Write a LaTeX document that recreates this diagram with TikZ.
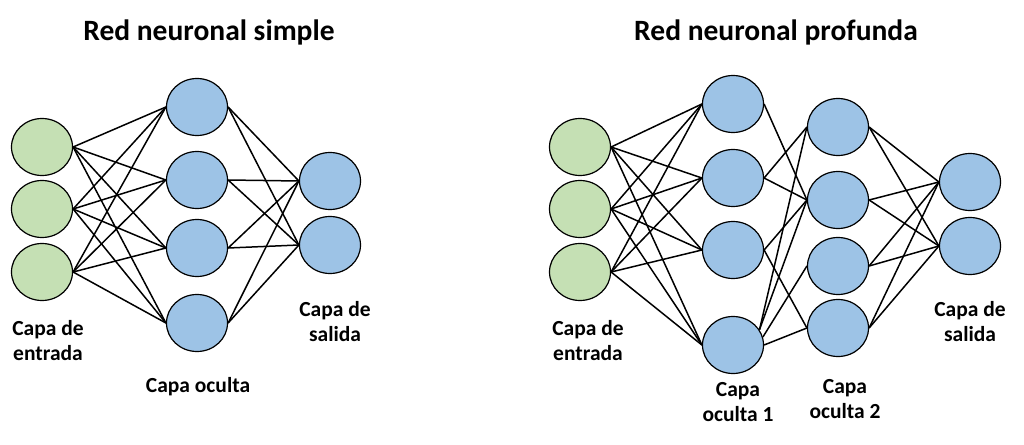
\documentclass[tikz,border=0pt]{standalone}
\usepackage{fontspec}
\setmainfont{Carlito}
\usetikzlibrary{shapes.geometric}
\definecolor{ing}{HTML}{C5E0B4}
\definecolor{hid}{HTML}{9DC3E6}
\begin{document}
\begin{tikzpicture}[x=1pt,y=-1pt,
  neu/.style={ellipse,draw=black,line width=1.2pt,minimum width=61pt,minimum height=57pt,inner sep=0pt},
  inn/.style={neu,fill=ing}, hn/.style={neu,fill=hid},
  ed/.style={line width=1.5pt},
  ttl/.style={font=\bfseries\fontsize{29.5}{34}\selectfont},
  lbl/.style={font=\bfseries\fontsize{21.5}{25}\selectfont,align=center}]
\useasboundingbox (0,0) rectangle (1024,444);
% left
\foreach \i/\y in {1/147,2/209,3/272} \node[inn] (a\i) at (42,\y) {};
\foreach \i/\y in {1/107,2/180,3/248,4/323} \node[hn] (b\i) at (197,\y) {};
\foreach \i/\y in {1/181,2/245} \node[hn] (c\i) at (330,\y) {};
\foreach \i in {1,2,3} \foreach \j in {1,2,3,4} \draw[ed] (a\i.east) -- (b\j.west);
\foreach \i in {1,2,3,4} \foreach \j in {1,2} \draw[ed] (b\i.east) -- (c\j.west);
\node[ttl] (t1) at (209,32) {Red neuronal simple};
\node[lbl] (l1) at (48,341) {Capa de\\entrada};
\node[lbl] (l2) at (198,387) {Capa oculta};
\node[lbl] (l3) at (335,322) {Capa de\\salida};
% right
\foreach \i/\y in {1/147,2/209,3/272} \node[inn] (d\i) at (580,\y) {};
\foreach \i/\y in {1/104,2/178,3/250,4/345} \node[hn] (e\i) at (733,\y) {};
\foreach \i/\y in {1/127,2/200,3/266,4/328} \node[hn] (f\i) at (838,\y) {};
\foreach \i/\y in {1/182,2/246} \node[hn] (g\i) at (970,\y) {};
\foreach \i in {1,2,3} \foreach \j in {1,2,3,4} \draw[ed] (d\i.east) -- (e\j.west);
\draw[ed] (e1.east) -- (f2.west);
\draw[ed] (e2.east) -- (f1.west);
\draw[ed] (e2.east) -- (f2.west);
\draw[ed] (e3.east) -- (f2.west);
\draw[ed] (e3.east) -- (f4.west);
\draw[ed] (e4.30) -- (f1.west);
\draw[ed] (e4.30) -- (f2.west);
\draw[ed] (e4.15) -- (f3.west);
\draw[ed] (e4.east) -- (f4.west);
\foreach \i in {1,2,3,4} \foreach \j in {1,2} \draw[ed] (f\i.east) -- (g\j.west);
\node[ttl] (t2) at (776,32) {Red neuronal profunda};
\node[lbl] (l4) at (588,341) {Capa de\\entrada};
\node[lbl] (l5) at (738,402) {Capa\\oculta 1};
\node[lbl] (l6) at (845,399) {Capa\\oculta 2};
\node[lbl] (l7) at (970,322) {Capa de\\salida};
\end{tikzpicture}
\end{document}
